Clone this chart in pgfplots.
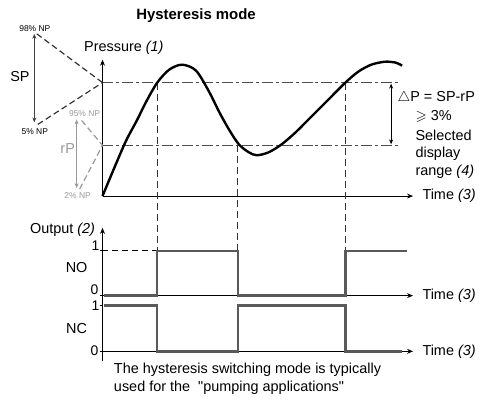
\documentclass[border=0pt]{standalone}
\usepackage{pgfplots}
\pgfplotsset{compat=1.18}
\usepackage{amssymb}
\usepackage{fontspec}
\setmainfont{Liberation Sans}
\newfontfamily\nomap{Liberation Sans}
\usetikzlibrary{arrows.meta}
\definecolor{sig}{HTML}{5A5A5A}
\definecolor{dd}{HTML}{4D4D4D}
\definecolor{lg}{HTML}{999999}
\begin{document}
\begin{tikzpicture}[font=\fontsize{14.5}{17}\selectfont]
\begin{axis}[width=479pt,height=400pt,scale only axis,
  xmin=0,xmax=479,ymin=0,ymax=400,y dir=reverse,hide axis,clip=false]
\path (axis cs:0,0) rectangle (axis cs:479,400);
% title
\node[font=\fontsize{15}{17}\selectfont\bfseries] at (axis cs:197,16) {Hysteresis mode};
% ---------- Pressure panel ----------
\draw[-{Stealth[length=6pt,width=5pt]},line width=1pt] (axis cs:103,197) -- (axis cs:103,60);
\draw[-{Stealth[length=6pt,width=5pt]},line width=1pt] (axis cs:103,197) -- (axis cs:415,197);
\node[anchor=west] at (axis cs:81,48) {Pressure \textit{(1)}};
\node[anchor=west] at (axis cs:421,197) {Time \textit{(3)}};
% SP and rP levels (dash-dot)
\addplot[dd,line width=1.5pt,dash pattern=on 11pt off 3pt on 3pt off 3pt] coordinates {(103,83) (402,83)};
\addplot[dd,line width=1.5pt,dash pattern=on 11pt off 3pt on 3pt off 3pt] coordinates {(103,146) (402,146)};
% vertical dashed guides
\addplot[black!80,line width=1pt,dash pattern=on 7pt off 4pt] coordinates {(158,83) (158,252)};
\addplot[black!80,line width=1pt,dash pattern=on 7pt off 4pt] coordinates {(239,146) (239,252)};
\addplot[black!80,line width=1pt,dash pattern=on 7pt off 4pt] coordinates {(347,83) (347,252)};
% pressure curve
\addplot[black,line width=2.4pt,smooth,tension=0.5] coordinates {
(103,197) (125,145) (137,122) (147,102) (158,83) (170,70) (183,65) (197,71)
(210,92) (220,112) (230,130) (240,145) (250,153) (258,156) (270,153) (283,145) (297,133)
(312,118) (333,97) (347,83) (360,72) (373,65) (387,62) (398,63) (404,66)};
% SP annotation
\node at (axis cs:35,29) {\fontsize{8.5}{10}\selectfont 98\% NP};
\node at (axis cs:35,132) {\fontsize{8.5}{10}\selectfont 5\% NP};
\node at (axis cs:20,77) {SP};
\draw[{Stealth[length=5pt,width=4pt]}-{Stealth[length=5pt,width=4pt]},black!75,line width=0.8pt] (axis cs:34.5,34) -- (axis cs:34.5,123);
\draw[black!80,line width=1.2pt,dash pattern=on 6pt off 3.5pt] (axis cs:37,34) -- (axis cs:103,83);
\draw[black!80,line width=1.2pt,dash pattern=on 6pt off 3.5pt] (axis cs:38,125) -- (axis cs:103,83);
% rP annotation
\node[lg] at (axis cs:85,114) {\fontsize{8.5}{10}\selectfont 95\% NP};
\node[lg] at (axis cs:78,197) {\fontsize{8.5}{10}\selectfont 2\% NP};
\node[lg] at (axis cs:68,149) {rP};
\draw[{Stealth[length=5pt,width=4pt]}-{Stealth[length=5pt,width=4pt]},lg,line width=0.8pt] (axis cs:77,120) -- (axis cs:77,189);
\draw[lg,line width=1.2pt,dash pattern=on 6pt off 3.5pt] (axis cs:82,121) -- (axis cs:103,146);
\draw[lg,line width=1.2pt,dash pattern=on 6pt off 3.5pt] (axis cs:80,190) -- (axis cs:103,146);
% Delta P annotation
\draw[{Stealth[length=5pt,width=4pt]}-{Stealth[length=5pt,width=4pt]},black,line width=0.8pt] (axis cs:393,84) -- (axis cs:393,145);
\node[anchor=west] at (axis cs:396,98) {$\bigtriangleup$P = SP-rP};
\node[anchor=west] at (axis cs:414,117) {$\geqslant$ 3\%};
\node[anchor=west] at (axis cs:414,136) {Selected};
\node[anchor=west] at (axis cs:414,155) {display};
\node[anchor=west] at (axis cs:414,173) {range \textit{(4)}};
% ---------- Output panel ----------
\draw[-{Stealth[length=6pt,width=5pt]},line width=1pt] (axis cs:103,363) -- (axis cs:103,229);
\draw[-{Stealth[length=6pt,width=5pt]},line width=0.8pt] (axis cs:103,297) -- (axis cs:415,297);
\draw[-{Stealth[length=6pt,width=5pt]},line width=0.8pt] (axis cs:103,353) -- (axis cs:415,353);
\draw[line width=0.8pt] (axis cs:100,252) -- (axis cs:103,252);
\draw[line width=0.8pt] (axis cs:100,307) -- (axis cs:103,307);
\draw[line width=0.8pt] (axis cs:100,297) -- (axis cs:103,297);
\draw[line width=0.8pt] (axis cs:100,353) -- (axis cs:103,353);
\node[anchor=east] at (axis cs:99,231) {Output \textit{(2)}};
\node[inner sep=0pt,font=\fontsize{14}{16}\selectfont] at (axis cs:96,247) {1};
\node[inner sep=0pt,font=\fontsize{14}{16}\selectfont] at (axis cs:95,291.5) {0};
\node[inner sep=0pt,font=\fontsize{14}{16}\selectfont] at (axis cs:96,307.5) {1};
\node[inner sep=0pt,font=\fontsize{14}{16}\selectfont] at (axis cs:95,352) {0};
\node at (axis cs:77,269) {NO};
\node at (axis cs:77,330) {NC};
\node[anchor=west] at (axis cs:421,297) {Time \textit{(3)}};
\node[anchor=west] at (axis cs:421,353) {Time \textit{(3)}};
\addplot[black,line width=0.9pt,dash pattern=on 6pt off 4pt] coordinates {(103,252) (158,252)};
% NO signal
\addplot[sig,line width=2.4pt] coordinates {(104,297) (158,297) (158,252) (239,252) (239,297) (347,297) (347,252) (409,252)};
% NC signal
\addplot[sig,line width=2.4pt] coordinates {(104,307) (158,307) (158,353) (239,353) (239,307) (347,307) (347,353) (404,353)};
% caption
\node[anchor=west] at (axis cs:111,372) {The hysteresis switching mode is typically};
\node[anchor=west] at (axis cs:111,390) {used for the \ {\nomap"}pumping applications{\nomap"}};
\end{axis}
\end{tikzpicture}
\end{document}
